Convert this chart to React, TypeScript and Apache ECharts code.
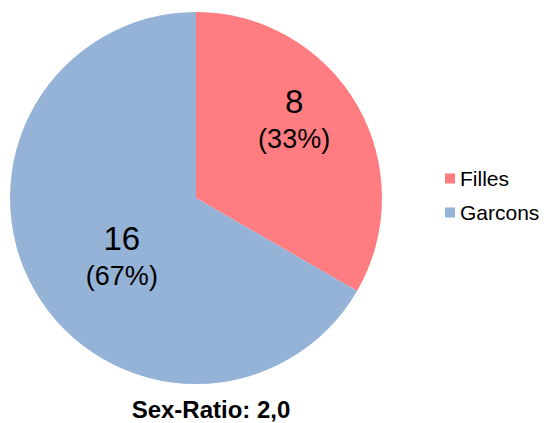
import React, { useEffect, useRef } from "react";
import * as echarts from "echarts";

const categories = ["Filles", "Garcons"];
const values = [8, 16];
const colors = ["#FF7C80", "#95B3D7"];
const titleText = "Sex-Ratio: 2,0";

const FONT = "'Liberation Sans', Arial, sans-serif";

export default function App() {
  const ref = useRef<HTMLDivElement>(null);
  useEffect(() => {
    if (!ref.current) return;
    const chart = echarts.init(ref.current, null, { renderer: "svg" });
    const labelShift: Record<string, [number, number]> = {
      Filles: [15, -31],
      Garcons: [9, 10],
    };
    chart.setOption({
      animation: false,
      textStyle: { fontFamily: FONT },
      title: {
        text: titleText,
        left: 211,
        top: 397,
        textAlign: "center",
        padding: 0,
        textStyle: { fontSize: 24, fontWeight: "bold", color: "#000", fontFamily: FONT },
      },
      legend: {
        orient: "vertical",
        left: 445,
        top: 168,
        padding: 0,
        itemWidth: 10,
        itemHeight: 10,
        itemGap: 13,
        icon: "rect",
        data: categories,
        textStyle: { fontSize: 21, color: "#000", fontFamily: FONT },
      },
      series: [
        {
          type: "pie",
          center: [196, 198],
          radius: 186,
          startAngle: 90,
          clockwise: true,
          data: categories.map((c, i) => ({ name: c, value: values[i], itemStyle: { color: colors[i] } })),
          label: {
            show: true,
            position: "inside",
            formatter: (p: any) => `{a|${p.value}}\n{b|(${Math.round(p.percent)}%)}`,
            rich: {
              a: { fontSize: 33, lineHeight: 40, color: "#000", fontFamily: FONT },
              b: { fontSize: 27, lineHeight: 36, color: "#000", fontFamily: FONT },
            },
          },
          labelLayout: (params: any) => {
            const s = labelShift[categories[params.dataIndex]] || [0, 0];
            return { dx: s[0], dy: s[1] };
          },
          labelLine: { show: false },
          emphasis: { disabled: true },
        },
      ],
    });
    return () => chart.dispose();
  }, []);
  return <div ref={ref} style={{ width: 544, height: 423, position: "absolute", left: 0, top: 0 }} />;
}
